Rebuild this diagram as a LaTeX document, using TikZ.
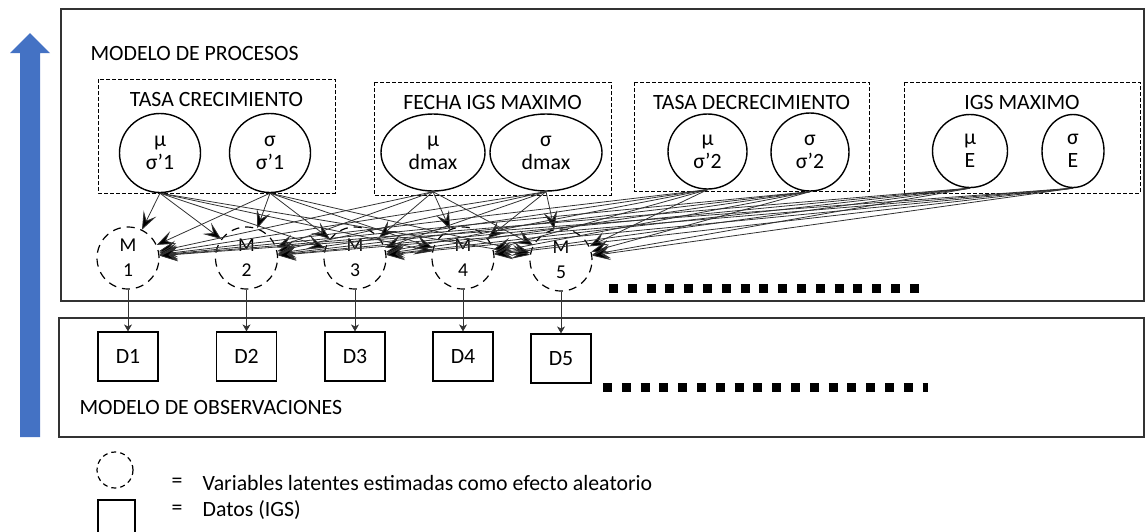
\documentclass[tikz,border=0pt]{standalone}
\usepackage{fontspec}
\setmainfont{Carlito}
\usepackage{tikz}
\usetikzlibrary{arrows.meta}
\usetikzlibrary{shapes}
\definecolor{arrow_blue}{RGB}{68,114,196}
\definecolor{edge_gray}{RGB}{50,50,50}

\begin{document}
\begin{tikzpicture}[x=0.5pt,y=-0.5pt,semithick,>={Stealth[length=9pt,width=7pt,inset=4pt,fill=black]}]
    \tikzstyle{heading}=[text=black,inner sep=0pt,font=\fontsize{10.9}{12}\selectfont]
    \tikzstyle{model}=[draw=black!80,line width=0.75pt]
    \tikzstyle{group}=[draw,dash pattern=on 2pt off 1pt,line width=0.5pt]
    \tikzstyle{param}=[draw,ellipse,line width=0.7pt,inner sep=0pt,align=center,font=\fontsize{10.9}{11.5}\selectfont]
    \tikzstyle{latent}=[draw,circle,dash pattern=on 4pt off 3pt,line width=0.6pt,minimum size=31pt,inner sep=0pt,align=center,font=\fontsize{9.8}{12.5}\selectfont]
    \tikzstyle{data}=[draw,rectangle,line width=0.6pt,minimum width=30pt,minimum height=24.5pt,inner sep=0pt,font=\fontsize{10.9}{12}\selectfont]
    \tikzstyle{link}=[->,draw=edge_gray,line width=0.4pt]
    \tikzstyle{obs}=[-{Stealth[length=3.5pt,width=4pt,inset=1pt]},draw=edge_gray,line width=0.45pt]
    \tikzstyle{more}=[line width=4.5pt,dash pattern=on 4.5pt off 4.9pt]

    \useasboundingbox (0,0) rectangle (1145,531);

    % flecha azul
    \fill[arrow_blue] (20,437) -- (20,53) -- (10,53) -- (30,33) -- (50,53) -- (40,53) -- (40,437) -- cycle;

    % modelos
    \draw[model] (61,9) rectangle (1144,301);
    \draw[model] (59,318) rectangle (1144,437);
    \node[heading,anchor=west] (proc) at (90,53)  {MODELO DE PROCESOS};
    \node[heading,anchor=west] (obsv) at (79,407) {MODELO DE OBSERVACIONES};

    % grupos de parametros
    \draw[group] (98,79)  rectangle (335,193);
    \draw[group] (374,82) rectangle (611,195);
    \draw[group] (634,82) rectangle (869,191);
    \draw[group] (904,82) rectangle (1140,193);
    \node[heading] (tc) at (216.5,99) {TASA CRECIMIENTO};
    \node[heading] (fi) at (492.5,102) {FECHA IGS MAXIMO};
    \node[heading] (td) at (751.5,102) {TASA DECRECIMIENTO};
    \node[heading] (im) at (1022,102) {IGS MAXIMO};

    \node[param,minimum width=40.5pt,minimum height=39.5pt] (muC) at (160,153)   {μ\\σ’1};
    \node[param,minimum width=40.5pt,minimum height=39.5pt] (sgC) at (270,153)   {σ\\σ’1};
    \node[param,minimum width=52pt,minimum height=38.5pt]   (muF) at (433,152.5) {μ\\dmax};
    \node[param,minimum width=56pt,minimum height=38.5pt]   (sgF) at (546,152.5) {σ\\dmax};
    \node[param,minimum width=39.5pt,minimum height=37.5pt] (muD) at (707.5,151.5) {μ\\σ’2};
    \node[param,minimum width=39pt,minimum height=39pt]     (sgD) at (810,152)   {σ\\σ’2};
    \node[param,minimum width=37.5pt,minimum height=36.5pt] (muI) at (970,151)   {μ\\E};
    \node[param,minimum width=31pt,minimum height=36.5pt]   (sgI) at (1073,151)  {σ\\E};

    % variables latentes y datos
    \node[latent] (M1) at (128,258)   {M\\1};
    \node[latent] (M2) at (246.5,258) {M\\2};
    \node[latent] (M3) at (355,258)   {M\\3};
    \node[latent] (M4) at (463,258)   {M\\4};
    \node[latent] (M5) at (561,260)   {M\\5};

    \node[data] (D1) at (128,356.5)   {D1};
    \node[data] (D2) at (246.5,356.5) {D2};
    \node[data] (D3) at (355,356.5)   {D3};
    \node[data] (D4) at (463,356.5)   {D4};
    \node[data] (D5) at (561,358.5)   {D5};

    \foreach \p in {muC,sgC,muF,sgF,muD,sgD,muI,sgI}
      \path (\p.south) edge[link] (M1) edge[link] (M2) edge[link] (M3) edge[link] (M4) edge[link] (M5);

    \path
     (M1) edge[obs] (D1)
     (M2) edge[obs] (D2)
     (M3) edge[obs] (D3)
     (M4) edge[obs] (D4)
     (M5) edge[obs] (D5);

    \draw[more] (609,288) -- (919,288);
    \draw[more] (603,387) -- (928,387);

    % leyenda
    \node[latent,minimum size=18pt,dash pattern=on 2.5pt off 2pt] (keyM) at (115,470) {};
    \node[heading] (eqM) at (177,483) {=};
    \node[heading,anchor=west] (txtM) at (202,483) {Variables latentes estimadas como efecto aleatorio};
    \node[data,minimum width=18.5pt,minimum height=18.5pt] (keyD) at (116.5,518.5) {};
    \node[heading] (eqD) at (177,510) {=};
    \node[heading,anchor=west] (txtD) at (202,510) {Datos (IGS)};
  \end{tikzpicture}
\end{document}
